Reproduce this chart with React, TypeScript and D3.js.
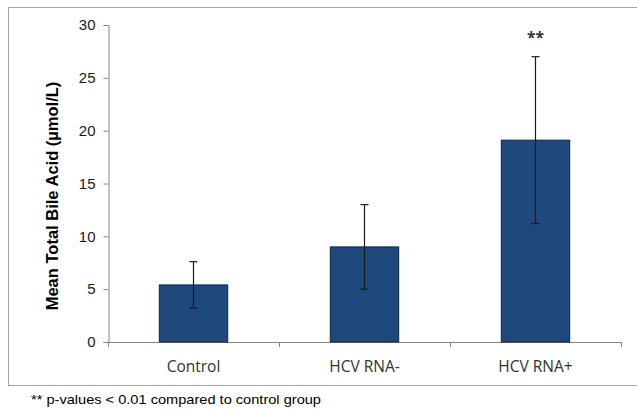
import React, { useEffect, useRef } from 'react';
import * as d3 from 'd3';

const categories = ['Control', 'HCV RNA-', 'HCV RNA+'];
const means = [5.4, 9.0, 19.1];
const errors = [2.2, 4.0, 7.9];
const significance = ['', '', '**'];
const yTicks = [0, 5, 10, 15, 20, 25, 30];
const yLabel = 'Mean Total Bile Acid (\u00b5mol/L)';
const footnote = '** p-values < 0.01 compared to control group';

const App: React.FC = () => {
  const svgRef = useRef<SVGSVGElement>(null);

  useEffect(() => {
    if (!svgRef.current) return;
    const width = 637;
    const height = 409;
    const arial = '"Liberation Sans", Arial, sans-serif';
    const calibri = '"Open Sans", sans-serif';

    const svg = d3.select(svgRef.current);
    svg.selectAll('*').remove();
    svg.attr('width', width).attr('height', height);

    svg.append('rect').attr('width', width).attr('height', height).attr('fill', '#fff');

    // chart frame
    svg.append('rect')
      .attr('x', 8.5)
      .attr('y', 7.5)
      .attr('width', 640)
      .attr('height', 378)
      .attr('fill', 'none')
      .attr('stroke', '#a6a6a6')
      .attr('stroke-width', 1);

    const x0 = 108;
    const x1 = 621;
    const yScale = d3.scaleLinear().domain([0, 30]).range([342, 25]);
    const xScale = d3.scaleBand<string>().domain(categories).range([x0, x1]).paddingInner(0.6).paddingOuter(0.3);

    // y axis
    const yAxis = svg.append('g')
      .attr('transform', `translate(${x0 + 0.5},0)`)
      .call(d3.axisLeft(yScale).tickValues(yTicks).tickSize(5).tickPadding(8));
    yAxis.select('.domain').attr('stroke', '#868686');
    yAxis.selectAll('.tick line').attr('stroke', '#868686');
    yAxis.selectAll('.tick text')
      .attr('font-family', arial)
      .attr('font-size', 15)
      .attr('fill', '#1a1a1a');

    // x axis
    const xLine = svg.append('g');
    xLine.append('line')
      .attr('x1', x0)
      .attr('x2', x1)
      .attr('y1', yScale(0) + 0.5)
      .attr('y2', yScale(0) + 0.5)
      .attr('stroke', '#868686');
    const step = (x1 - x0) / categories.length;
    d3.range(categories.length + 1).forEach((i) => {
      xLine.append('line')
        .attr('x1', x0 + i * step + 0.5)
        .attr('x2', x0 + i * step + 0.5)
        .attr('y1', yScale(0))
        .attr('y2', yScale(0) + 5)
        .attr('stroke', '#868686');
    });

    svg.append('g')
      .selectAll('text')
      .data(categories)
      .join('text')
      .attr('x', (d) => (xScale(d) as number) + xScale.bandwidth() / 2)
      .attr('y', 372)
      .attr('text-anchor', 'middle')
      .attr('font-family', calibri)
      .attr('font-size', 15.5)
      .attr('fill', '#333')
      .text((d) => d);

    // bars
    svg.append('g')
      .selectAll('rect')
      .data(categories)
      .join('rect')
      .attr('x', (d) => xScale(d) as number)
      .attr('y', (_, i) => yScale(means[i]))
      .attr('width', xScale.bandwidth())
      .attr('height', (_, i) => yScale(0) - yScale(means[i]))
      .attr('fill', '#1f497d')
      .attr('stroke', '#0f2440')
      .attr('stroke-width', 1);

    // error bars
    const eg = svg.append('g').attr('stroke', '#1a1a1a').attr('stroke-width', 1.2);
    categories.forEach((c, i) => {
      const cx = (xScale(c) as number) + xScale.bandwidth() / 2;
      const top = yScale(means[i] + errors[i]);
      const bot = yScale(means[i] - errors[i]);
      eg.append('line').attr('x1', cx).attr('x2', cx).attr('y1', top).attr('y2', bot);
      eg.append('line').attr('x1', cx - 4).attr('x2', cx + 4).attr('y1', top).attr('y2', top);
      eg.append('line').attr('x1', cx - 4).attr('x2', cx + 4).attr('y1', bot).attr('y2', bot);
    });

    // significance markers
    svg.append('g')
      .selectAll('text')
      .data(categories)
      .join('text')
      .attr('x', (d) => (xScale(d) as number) + xScale.bandwidth() / 2)
      .attr('y', 43)
      .attr('text-anchor', 'middle')
      .attr('font-family', calibri)
      .attr('font-size', 15.5)
      .attr('font-weight', 'bold')
      .attr('fill', '#333')
      .text((_, i) => significance[i]);

    // y label
    svg.append('text')
      .attr('transform', `translate(58,196) rotate(-90)`)
      .attr('text-anchor', 'middle')
      .attr('font-family', arial)
      .attr('font-size', 16.5)
      .attr('font-weight', 'bold')
      .attr('fill', '#000')
      .text(yLabel);

    // footnote
    svg.append('text')
      .attr('x', 31)
      .attr('y', 404)
      .attr('font-family', arial)
      .attr('font-size', 13)
      .attr('textLength', 290)
      .attr('lengthAdjust', 'spacingAndGlyphs')
      .attr('fill', '#000')
      .text(footnote);
  }, []);

  return <svg ref={svgRef} style={{ position: 'absolute', left: 0, top: 0, display: 'block' }} />;
};

export default App;
